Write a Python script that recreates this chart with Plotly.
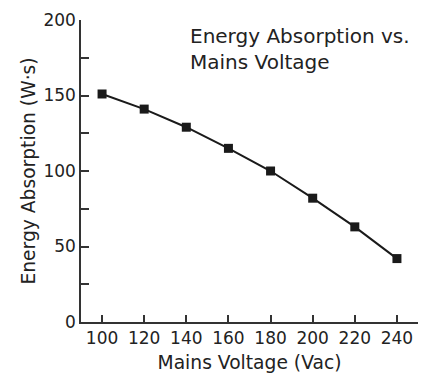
import plotly.graph_objects as go

# 資料
voltage = [100, 120, 140, 160, 180, 200, 220, 240]
energy = [151, 141, 129, 115, 100, 82, 63, 42]

x_ticks = [100, 120, 140, 160, 180, 200, 220, 240]
y_ticks = [0, 50, 100, 150, 200]

ink = "#222222"
font_family = "DejaVu Sans, Verdana, sans-serif"

fig = go.Figure()

fig.add_trace(go.Scatter(
    x=voltage, y=energy,
    mode="lines+markers",
    line=dict(color="#1a1a1a", width=2),
    marker=dict(symbol="square", size=9, color="#1a1a1a"),
    showlegend=False, hoverinfo="skip"))

fig.add_annotation(
    x=0.317, y=0.995, xref="paper", yref="paper",
    xanchor="left", yanchor="top", align="left",
    text="Energy Absorption vs.<br>Mains Voltage",
    showarrow=False,
    font=dict(size=20, color=ink, family=font_family))

fig.update_layout(
    width=424, height=373,
    margin=dict(l=81, r=6, t=20, b=51),
    plot_bgcolor="white", paper_bgcolor="white",
    font=dict(family=font_family, size=17, color=ink),
    xaxis=dict(
        range=[90, 250], tickvals=x_ticks,
        showgrid=False, zeroline=False, automargin=False,
        showline=True, linecolor="#333333", linewidth=1.5,
        ticks="inside", ticklen=7, tickcolor="#333333", tickwidth=1.5,
        title=dict(text="Mains Voltage (Vac)", standoff=18, font=dict(size=18.7)),
        tickfont=dict(size=17)),
    yaxis=dict(
        range=[0, 200], tickvals=y_ticks,
        showgrid=False, zeroline=False, automargin=False,
        showline=True, linecolor="#333333", linewidth=1.5,
        ticks="inside", ticklen=8, tickcolor="#333333", tickwidth=1.5,
        minor=dict(tickvals=[25, 75, 125, 175], ticks="inside", ticklen=8,
                   tickcolor="#333333", tickwidth=1.5, showgrid=False),
        title=dict(text="Energy Absorption (W·s)", standoff=3, font=dict(size=18.7)),
        tickfont=dict(size=17)),
)

# 去掉 body 預設邊距，讓圖貼齊視窗左上角
fig.write_html("out.html", config={"displayModeBar": False},
               post_script="document.body.style.margin='0';")
